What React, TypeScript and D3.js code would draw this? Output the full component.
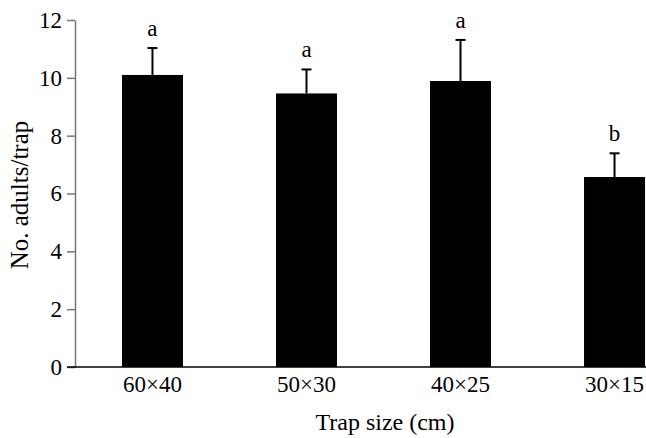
import React, { useEffect, useRef } from 'react';
import * as d3 from 'd3';

const trapSizes = ['60×40', '50×30', '40×25', '30×15'];
const meanAdults = [10.1, 9.46, 9.89, 6.57];
const errorTops = [11.03, 10.29, 11.31, 7.39];
const groupLetters = ['a', 'a', 'a', 'b'];
const yTicks = [0, 2, 4, 6, 8, 10, 12];

const App = () => {
  const svgRef = useRef<SVGSVGElement>(null);

  useEffect(() => {
    const svg = d3.select(svgRef.current);
    svg.selectAll('*').remove();

    const left = 75;
    const top = 20;
    const bottom = 367;
    const font = '"Liberation Serif", "Times New Roman", serif';

    const x = d3.scaleBand()
      .domain(trapSizes)
      .range([left, 692])
      .paddingInner(0.604)
      .paddingOuter(0.305);

    const y = d3.scaleLinear()
      .domain([0, 12])
      .range([bottom, top]);

    const yAxis = svg.append('g')
      .attr('transform', `translate(${left},0)`)
      .call(d3.axisLeft(y).tickValues(yTicks).tickSize(8).tickPadding(5).tickSizeOuter(0));
    yAxis.select('.domain').attr('stroke', '#777').attr('stroke-width', 1.5);
    yAxis.selectAll('.tick line').attr('stroke', '#777').attr('stroke-width', 1.5);
    yAxis.selectAll('.tick text')
      .attr('fill', '#000')
      .style('font-family', font)
      .style('font-size', '23px');

    const data = trapSizes.map((k, i) => ({ k, v: meanAdults[i], e: errorTops[i], l: groupLetters[i] }));

    svg.selectAll('.bar')
      .data(data)
      .join('rect')
      .attr('x', d => x(d.k)!)
      .attr('y', d => y(d.v))
      .attr('width', x.bandwidth())
      .attr('height', d => bottom - y(d.v))
      .attr('fill', '#000');

    const cx = (d: { k: string }) => x(d.k)! + x.bandwidth() / 2;

    svg.selectAll('.err')
      .data(data)
      .join('line')
      .attr('x1', cx).attr('x2', cx)
      .attr('y1', d => y(d.v)).attr('y2', d => y(d.e))
      .attr('stroke', '#000').attr('stroke-width', 2);

    svg.selectAll('.cap')
      .data(data)
      .join('line')
      .attr('x1', d => cx(d) - 5).attr('x2', d => cx(d) + 5)
      .attr('y1', d => y(d.e)).attr('y2', d => y(d.e))
      .attr('stroke', '#000').attr('stroke-width', 2);

    svg.selectAll('.letter')
      .data(data)
      .join('text')
      .attr('x', cx)
      .attr('y', d => y(d.e) - 12)
      .attr('text-anchor', 'middle')
      .style('font-family', font)
      .style('font-size', '23px')
      .text(d => d.l);

    // x axis baseline
    svg.append('line')
      .attr('x1', 67).attr('x2', 646)
      .attr('y1', bottom).attr('y2', bottom)
      .attr('stroke', '#000').attr('stroke-width', 1.5);

    svg.selectAll('.xlab')
      .data(data)
      .join('text')
      .attr('x', cx)
      .attr('y', 392)
      .attr('text-anchor', 'middle')
      .style('font-family', font)
      .style('font-size', '23px')
      .text(d => d.k);

    svg.append('text')
      .attr('x', 385)
      .attr('y', 430)
      .attr('text-anchor', 'middle')
      .style('font-family', font)
      .style('font-size', '24px')
      .text('Trap size (cm)');

    svg.append('text')
      .attr('transform', 'translate(28,195) rotate(-90)')
      .attr('text-anchor', 'middle')
      .style('font-family', font)
      .style('font-size', '25px')
      .text('No. adults/trap');
  }, []);

  return (
    <svg
      ref={svgRef}
      width={646}
      height={438}
      style={{ position: 'absolute', left: 0, top: 0, background: '#fff' }}
    />
  );
};

export default App;
